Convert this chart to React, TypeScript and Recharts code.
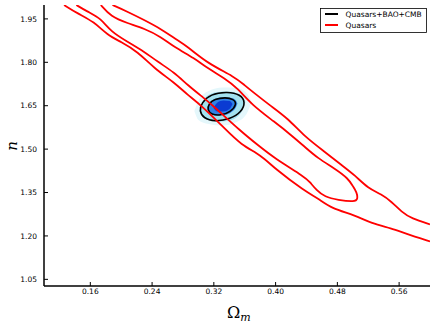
import React from 'react';
import { ComposedChart, Line, Area, XAxis, YAxis } from 'recharts';

// axis ticks
const omegaTicks = [0.16, 0.24, 0.32, 0.4, 0.48, 0.56];
const nTicks = [1.05, 1.2, 1.35, 1.5, 1.65, 1.8, 1.95];

// Quasars only: outer contour (two open branches) and inner closed contour, [Omega_m, n]
const quasarOuterLow = [
  [0.126, 1.998], [0.1432, 1.969], [0.1649, 1.94], [0.1822, 1.894], [0.1996, 1.871],
  [0.2212, 1.837], [0.2429, 1.779], [0.2688, 1.73], [0.2861, 1.687], [0.3035, 1.652],
  [0.3338, 1.572], [0.3555, 1.514], [0.3814, 1.479], [0.3987, 1.433], [0.4377, 1.355],
  [0.4549, 1.33], [0.4723, 1.295], [0.5026, 1.272], [0.5243, 1.243], [0.5503, 1.226],
  [0.5675, 1.209], [0.6, 1.181],
];
const quasarOuterHigh = [
  [0.1887, 1.998], [0.2082, 1.975], [0.2299, 1.946], [0.2536, 1.912], [0.2688, 1.883],
  [0.2861, 1.854], [0.3121, 1.796], [0.3468, 1.75], [0.3597, 1.721], [0.3727, 1.693],
  [0.3922, 1.652], [0.416, 1.606], [0.4377, 1.543], [0.4636, 1.491], [0.4853, 1.445],
  [0.5026, 1.41], [0.5199, 1.364], [0.5373, 1.344], [0.5503, 1.318], [0.5632, 1.283],
  [0.5762, 1.26], [0.6, 1.24],
];
const quasarInner = [
  [0.1419, 1.998], [0.1562, 1.975], [0.1736, 1.952], [0.1866, 1.906], [0.2082, 1.871],
  [0.2299, 1.837], [0.2471, 1.802], [0.2688, 1.765], [0.2861, 1.721], [0.3078, 1.675],
  [0.3182, 1.652], [0.3555, 1.56], [0.377, 1.514], [0.3987, 1.468], [0.4377, 1.404],
  [0.4442, 1.387], [0.4529, 1.358], [0.4636, 1.335], [0.4809, 1.324], [0.5026, 1.318],
  [0.5065, 1.327], [0.5052, 1.351], [0.5, 1.372], [0.4939, 1.399], [0.4766, 1.433],
  [0.4549, 1.468], [0.4377, 1.508], [0.4204, 1.548], [0.3987, 1.594], [0.3695, 1.652],
  [0.351, 1.71], [0.3338, 1.745], [0.3121, 1.779], [0.2948, 1.814], [0.2688, 1.852],
  [0.2516, 1.888], [0.2299, 1.917], [0.2082, 1.935], [0.1866, 1.958], [0.1736, 1.998],
];

// Quasars+BAO+CMB contours (closed)
const jointOuter = [
  [0.3013, 1.6315], [0.3065, 1.6073], [0.3208, 1.5945], [0.3416, 1.6038], [0.3558, 1.628],
  [0.361, 1.6626], [0.3545, 1.6885], [0.3377, 1.6989], [0.3156, 1.6903], [0.3039, 1.6591],
];
const jointInner = [
  [0.3117, 1.6349], [0.3169, 1.6194], [0.3286, 1.6159], [0.3416, 1.628], [0.35, 1.6557],
  [0.3455, 1.673], [0.3351, 1.6789], [0.3208, 1.673], [0.313, 1.6557],
];

// joint density shading, [Omega_m, n low, n high]
const densityHalo = [
  [0.2948, 1.6315, 1.6315], [0.3, 1.6004, 1.666], [0.313, 1.5866, 1.7006], [0.3312, 1.5813, 1.7127],
  [0.3494, 1.5934, 1.711], [0.3623, 1.6211, 1.6937], [0.3688, 1.6626, 1.6626],
];
const densityOuter = [
  [0.3013, 1.6315, 1.6315], [0.3065, 1.6073, 1.6695], [0.3156, 1.5986, 1.6903], [0.326, 1.5945, 1.6972],
  [0.3377, 1.5969, 1.6989], [0.3481, 1.6073, 1.6955], [0.3558, 1.628, 1.6851], [0.361, 1.6626, 1.6626],
];
const densityInner = [
  [0.3117, 1.6384, 1.6384], [0.3156, 1.6228, 1.6626], [0.3234, 1.6159, 1.6747], [0.3338, 1.6176, 1.6789],
  [0.3429, 1.628, 1.6764], [0.3481, 1.6419, 1.6695], [0.3506, 1.6574, 1.6574],
];
const densityCore = [
  [0.3195, 1.6419, 1.6419], [0.3247, 1.6297, 1.6609], [0.3325, 1.6297, 1.6678],
  [0.3403, 1.6384, 1.666], [0.3442, 1.6557, 1.6557],
];

const pts = (arr: number[][]) => arr.map(([x, y]) => ({ x, y }));
const band = (arr: number[][]) => arr.map(([x, lo, hi]) => ({ x, r: [lo, hi] }));

const tickStyle = { fill: '#000', fontSize: 7.5, fontFamily: 'DejaVu Sans' };
const fmt = (v: number) => v.toFixed(2);
const frame = { stroke: '#000', strokeWidth: 1.5 };

const App = () => {
  return (
    <div style={{ position: 'absolute', left: 0, top: 0, width: 436, height: 327, background: '#fff' }}>
      <ComposedChart width={436} height={327} margin={{ top: 5, right: 6, bottom: 0, left: 0 }}>
        <XAxis xAxisId="b" dataKey="x" type="number" domain={[0.1, 0.6]} ticks={omegaTicks}
          tickFormatter={fmt} allowDataOverflow height={41} tickSize={-4} tickMargin={7}
          axisLine={frame} tickLine={{ stroke: '#000' }} tick={tickStyle} />
        <XAxis xAxisId="t" orientation="top" dataKey="x" type="number" domain={[0.1, 0.6]} ticks={omegaTicks}
          allowDataOverflow height={0} tickSize={-4} tick={false}
          axisLine={frame} tickLine={{ stroke: '#000' }} />
        <YAxis yAxisId="l" type="number" domain={[1.027, 1.998]} ticks={nTicks} tickFormatter={fmt}
          allowDataOverflow width={44} tickSize={-4} tickMargin={11}
          axisLine={frame} tickLine={{ stroke: '#000' }} tick={tickStyle} />
        <YAxis yAxisId="r" orientation="right" type="number" domain={[1.027, 1.998]} ticks={nTicks}
          allowDataOverflow width={0} tickSize={-4} tick={false}
          axisLine={frame} tickLine={{ stroke: '#000' }} />

        <Area xAxisId="b" yAxisId="l" data={band(densityHalo)} dataKey="r" type="monotone"
          stroke="none" fill="#e4f7fb" fillOpacity={1} isAnimationActive={false} />
        <Area xAxisId="b" yAxisId="l" data={band(densityOuter)} dataKey="r" type="monotone"
          stroke="none" fill="#a3e1ef" fillOpacity={1} isAnimationActive={false} />
        <Area xAxisId="b" yAxisId="l" data={band(densityInner)} dataKey="r" type="monotone"
          stroke="none" fill="#2f82e6" fillOpacity={1} isAnimationActive={false} />
        <Area xAxisId="b" yAxisId="l" data={band(densityCore)} dataKey="r" type="monotone"
          stroke="none" fill="#0b3bd2" fillOpacity={1} isAnimationActive={false} />

        <Line xAxisId="b" yAxisId="l" data={pts(jointOuter)} dataKey="y" type="basisClosed"
          stroke="#000" strokeWidth={1.6} dot={false} activeDot={false} isAnimationActive={false} />
        <Line xAxisId="b" yAxisId="l" data={pts(jointInner)} dataKey="y" type="basisClosed"
          stroke="#000" strokeWidth={1.6} dot={false} activeDot={false} isAnimationActive={false} />

        <Line xAxisId="b" yAxisId="l" data={pts(quasarOuterLow)} dataKey="y" type="basis"
          stroke="#ff0000" strokeWidth={1.8} dot={false} activeDot={false} isAnimationActive={false} />
        <Line xAxisId="b" yAxisId="l" data={pts(quasarOuterHigh)} dataKey="y" type="basis"
          stroke="#ff0000" strokeWidth={1.8} dot={false} activeDot={false} isAnimationActive={false} />
        <Line xAxisId="b" yAxisId="l" data={pts(quasarInner)} dataKey="y" type="basis"
          stroke="#ff0000" strokeWidth={1.8} dot={false} activeDot={false} isAnimationActive={false} />
      </ComposedChart>

      <svg width={436} height={327} style={{ position: 'absolute', left: 0, top: 0, pointerEvents: 'none' }}>
        <rect x={320.5} y={8.5} width={106} height={24} fill="#fff" stroke="#000" strokeWidth={0.8} />
        <line x1={325} x2={338} y1={14} y2={14} stroke="#000" strokeWidth={2} />
        <text x={345.5} y={16.7} fontSize={7.5} fontFamily="DejaVu Sans">Quasars+BAO+CMB</text>
        <line x1={325} x2={338} y1={25} y2={25} stroke="#ff0000" strokeWidth={2} />
        <text x={345.5} y={27.7} fontSize={7.5} fontFamily="DejaVu Sans">Quasars</text>

        <text x={227} y={318} fontSize={16} fontFamily="DejaVu Serif">
          Ω<tspan fontSize={11} fontStyle="italic" dy={3}>m</tspan>
        </text>
        <text x={17} y={146} fontSize={15} fontStyle="italic" fontFamily="DejaVu Serif"
          textAnchor="middle" transform="rotate(-90 17 146)">n</text>
      </svg>
    </div>
  );
};

export default App;
